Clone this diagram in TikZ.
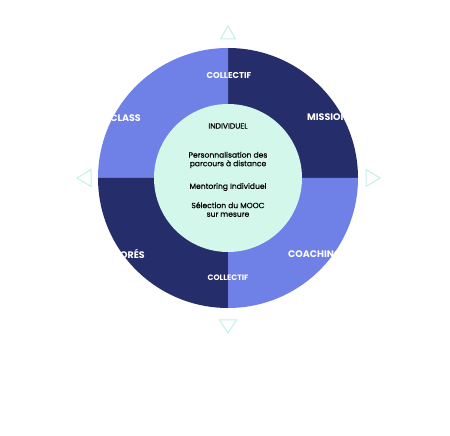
\documentclass[tikz,border=0pt]{standalone}
\usepackage{fontspec}
\setmainfont{Poppins}
\newfontfamily\medfont[FakeBold=0.5]{Poppins}
\definecolor{lightq}{HTML}{6F80E6}
\definecolor{darkq}{HTML}{262D6B}
\definecolor{mint}{HTML}{D4F7EC}
\definecolor{tri}{HTML}{C4F2E2}
\tikzset{
  quadlabel/.style={text=white, font=\bfseries\fontsize{9.5}{11}\selectfont, inner sep=0pt},
  colllabel/.style={text=white, font=\bfseries\fontsize{8.5}{10}\selectfont, inner sep=0pt},
  innertext/.style={text=black, font=\medfont\fontsize{7.6}{8.6}\selectfont, align=center, inner sep=0pt},
  arrowtri/.style={draw=tri, line width=1pt, line join=miter}
}
\begin{document}
\begin{tikzpicture}[x=1pt,y=1pt]
\useasboundingbox (0,0) rectangle (450,436);
\fill[white] (0,0) rectangle (450,436);
\coordinate (c) at (228,258);
% quadrants
\fill[darkq] (c) -- (358,258) arc[start angle=0,end angle=90,radius=130] -- cycle;
\fill[lightq] (c) -- (228,388) arc[start angle=90,end angle=180,radius=130] -- cycle;
\fill[darkq] (c) -- (98,258) arc[start angle=180,end angle=270,radius=130] -- cycle;
\fill[lightq] (c) -- (228,128) arc[start angle=270,end angle=360,radius=130] -- cycle;
% inner circle
\fill[mint] (c) circle[radius=74];
% labels clipped to outer circle
\begin{scope}
\clip (c) circle[radius=130];
\node[quadlabel, anchor=east] (class) at (141,318) {CLASS};
\node[quadlabel, anchor=west] (mission) at (307,319) {MISSION};
\node[quadlabel, anchor=east] (ores) at (145,182) {ORÉS};
\node[quadlabel, anchor=west] (coaching) at (288,182) {COACHING};
\end{scope}
\node[colllabel] (colltop) at (229,360) {COLLECTIF};
\node[colllabel, font=\bfseries\fontsize{7.8}{9}\selectfont] (collbot) at (228,158) {COLLECTIF};
% inner text
\node[innertext] (indiv) at (228,310) {INDIVIDUEL};
\node[innertext] (perso) at (228,276) {Personnalisation des\\parcours à distance};
\node[innertext] (mentor) at (228,249) {Mentoring Individuel};
\node[innertext] (mooc) at (228,226.5) {Sélection du MOOC\\sur mesure};
% triangles
\draw[arrowtri] (228,410) -- (220.5,397) -- (235.5,397) -- cycle;
\draw[arrowtri] (228,103) -- (219.5,116) -- (236.5,116) -- cycle;
\draw[arrowtri] (77,258) -- (91,266.5) -- (91,249.5) -- cycle;
\draw[arrowtri] (380,258) -- (366,266.5) -- (366,249.5) -- cycle;
\end{tikzpicture}
\end{document}
